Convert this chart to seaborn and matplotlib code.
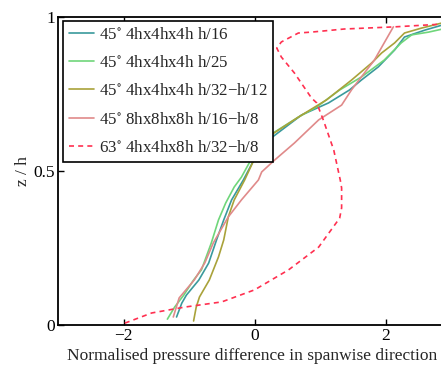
import pandas as pd
import numpy as np
import matplotlib
matplotlib.use("Agg")
import matplotlib.pyplot as plt
import seaborn as sns

# Values (x = normalised pressure difference, z = z/h)
teal_x = [-1.19, -1.11, -1.04, -0.85, -0.70, -0.58, -0.47, -0.35, -0.17, 0.11,
          0.72, 1.13, 1.45, 1.63, 1.89, 2.14, 2.29, 2.61, 2.87, 3.05]
teal_z = [0.026, 0.071, 0.097, 0.146, 0.201, 0.276, 0.341, 0.406, 0.471, 0.584,
          0.682, 0.721, 0.763, 0.795, 0.838, 0.893, 0.935, 0.958, 0.974, 0.985]

green_x = [-1.33, -1.22, -1.08, -0.93, -0.81, -0.66, -0.55, -0.44, -0.31, -0.20,
           0.11, 0.67, 0.95, 1.30, 1.63, 1.98, 2.24, 2.40, 2.66, 2.87, 3.05]
green_z = [0.019, 0.058, 0.097, 0.146, 0.179, 0.266, 0.341, 0.396, 0.448, 0.480,
           0.600, 0.675, 0.708, 0.763, 0.805, 0.860, 0.916, 0.942, 0.951, 0.961, 0.975]

olive_x = [-0.93, -0.89, -0.84, -0.69, -0.55, -0.47, -0.40, -0.31, -0.15, 0.13,
           0.67, 1.10, 1.48, 1.79, 1.94, 2.14, 2.29, 2.55, 2.87, 3.05]
olive_z = [0.013, 0.058, 0.091, 0.146, 0.221, 0.276, 0.351, 0.406, 0.471, 0.600,
           0.675, 0.731, 0.795, 0.851, 0.883, 0.916, 0.948, 0.964, 0.981, 0.990]

pink_x = [-1.24, -1.15, -0.92, -0.76, -0.63, -0.40, -0.20, 0.06, 0.11, 0.31,
          0.61, 0.98, 1.33, 1.48, 1.63, 1.83, 1.98, 2.12]
pink_z = [0.026, 0.088, 0.146, 0.201, 0.266, 0.351, 0.406, 0.471, 0.497, 0.536,
          0.591, 0.666, 0.714, 0.763, 0.805, 0.860, 0.916, 0.968]

dash_x = [-1.98, -1.57, -1.07, -0.50, 0.00, 0.52, 0.98, 1.30, 1.33, 1.33, 1.31,
          1.21, 1.05, 0.95, 0.87, 0.61, 0.41, 0.34, 0.41, 0.67, 0.87, 1.37, 2.14,
          2.87, 3.05]
dash_z = [0.006, 0.039, 0.058, 0.075, 0.114, 0.179, 0.253, 0.347, 0.380, 0.445,
          0.470, 0.568, 0.666, 0.721, 0.737, 0.818, 0.870, 0.899, 0.919, 0.948,
          0.951, 0.961, 0.968, 0.977, 0.980]

labels = ["45$^{\\circ}$ 4hx4hx4h h/16",
          "45$^{\\circ}$ 4hx4hx4h h/25",
          "45$^{\\circ}$ 4hx4hx4h h/32\u2212h/12",
          "45$^{\\circ}$ 8hx8hx8h h/16\u2212h/8",
          "63$^{\\circ}$ 4hx4hx8h h/32\u2212h/8"]
colors = ["#3a9a9c", "#6fd67a", "#a9a23a", "#e08a8a", "#ff3050"]

sns.set_style("ticks")
plt.rcParams["font.family"] = ["Liberation Serif", "DejaVu Serif"]
plt.rcParams["mathtext.fontset"] = "stix"

fig = plt.figure(figsize=(4.41, 3.65), dpi=100)
ax = fig.add_axes([58 / 441, 40 / 365, 393 / 441, 308 / 365])

series = [(teal_x, teal_z), (green_x, green_z), (olive_x, olive_z),
          (pink_x, pink_z), (dash_x, dash_z)]
for i, (xs, zs) in enumerate(series):
    df = pd.DataFrame({"x": xs, "z": zs})
    ls = (0, (3, 2.5)) if i == 4 else "-"
    sns.lineplot(data=df, x="x", y="z", sort=False, estimator=None, ax=ax,
                 color=colors[i], linestyle=ls, linewidth=1.2, label=labels[i])

ax.set_xlim(-3, 3)
ax.set_ylim(0, 1)
ax.set_xticks([-2, 0, 2])
ax.set_xticklabels(["\u22122", "0", "2"])
ax.set_yticks([0, 0.5, 1])
ax.set_yticklabels(["0", "0.5", "1"])
ax.tick_params(direction="in", length=4, width=1, top=True, labelsize=12.5,
               colors="black", pad=2)
for s in ax.spines.values():
    s.set_linewidth(1.3)
    s.set_color("black")
ax.set_xlabel("Normalised pressure difference in spanwise direction",
              fontsize=12.5, ha="left")
ax.xaxis.set_label_coords(0.022, -0.075)
ax.set_ylabel("z / h", fontsize=12.5, labelpad=2)

leg = ax.legend(loc="upper left", bbox_to_anchor=(0.013, 0.987), fontsize=12.2,
                frameon=True, fancybox=False, framealpha=1, edgecolor="black",
                handlelength=1.5, handletextpad=0.25, borderpad=0.35,
                labelspacing=0.72, borderaxespad=0)
leg.get_frame().set_linewidth(1.2)

fig.savefig("out.png", dpi=100)
